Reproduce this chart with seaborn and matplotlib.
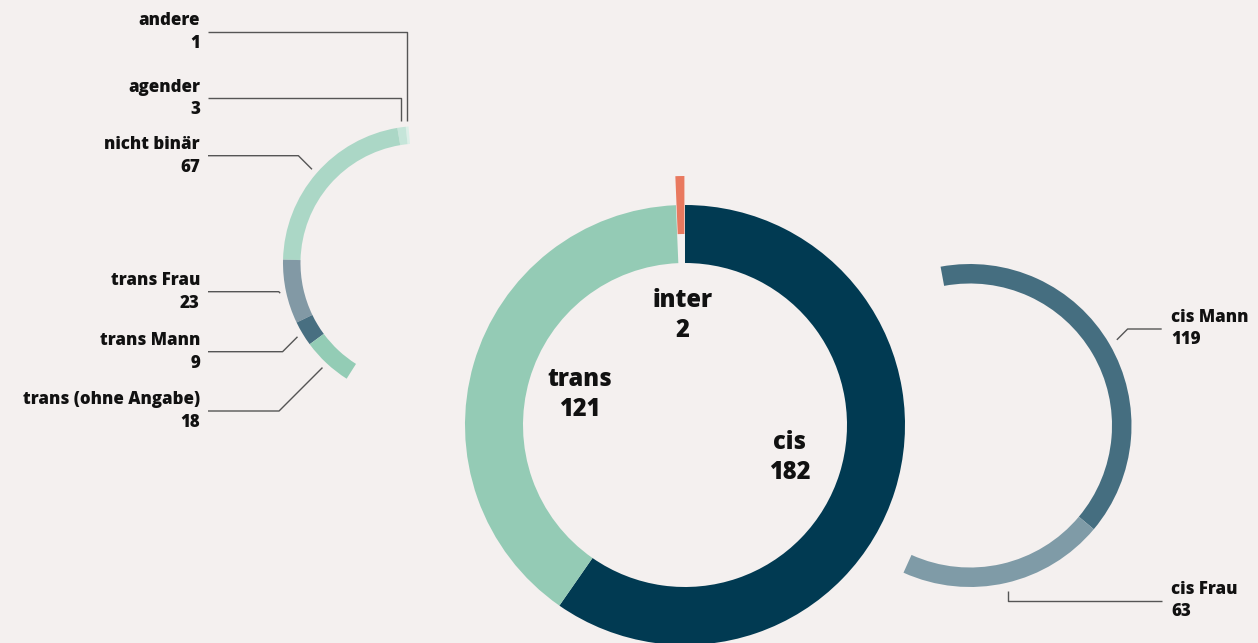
import numpy as np
import matplotlib
matplotlib.use("Agg")
import matplotlib.pyplot as plt
import seaborn as sns

# ---------------- data ----------------
main_labels = ["cis", "trans", "inter"]
main_values = [182, 121, 2]

cis_labels = ["cis Mann", "cis Frau"]
cis_values = [119, 63]

trans_labels = ["andere", "agender", "nicht binär", "trans Frau", "trans Mann", "trans (ohne Angabe)"]
trans_values = [1, 3, 67, 23, 9, 18]

# ---------------- style ----------------
main_colors = ["#013a52", "#94cbb5", "#e9795f"]
cis_colors = ["#456e80", "#7f9ba7"]
trans_colors = ["#dcefe8", "#c5e5d9", "#abd7c6", "#8299a5", "#486f81", "#93ccb5"]

W, H = 1258, 643
BG = "#f4f0ef"
TXT = "#111111"
LINE = "#555555"
WEIGHT = 800
BIG, SMALL = 17, 12.2

sns.set_theme(style="white", rc={"figure.facecolor": BG, "axes.facecolor": BG})
plt.rcParams["font.family"] = ["Open Sans", "DejaVu Sans"]


def Y(v):
    """image-pixel y (from top) -> data y (from bottom)"""
    return H - v


fig = plt.figure(figsize=(W / 100, H / 100), dpi=100)
fig.patch.set_facecolor(BG)
ax = fig.add_axes([0, 0, 1, 1])
ax.set_facecolor(BG)

total = sum(main_values)

# ---------------- main donut ----------------
main_c = (685, Y(425))
main_r, main_w = 220, 58
wedges_main, _ = ax.pie(
    main_values, colors=sns.color_palette(main_colors), startangle=90, counterclock=False,
    radius=main_r, center=main_c, explode=[0, 0, 29],
    wedgeprops=dict(width=main_w, linewidth=0),
)
for w, name, val in zip(wedges_main, main_labels, main_values):
    a = np.deg2rad((w.theta1 + w.theta2) / 2)
    x = main_c[0] + 110 * np.cos(a)
    y = main_c[1] + 110 * np.sin(a)
    ax.text(x, y + 15, name, ha="center", va="center", fontsize=BIG,
            fontweight=WEIGHT, color=TXT)
    ax.text(x, y - 15, str(val), ha="center", va="center", fontsize=BIG,
            fontweight=WEIGHT, color=TXT)

# ---------------- cis breakdown (right arc) ----------------
cis_c = (970, Y(425.5))
cis_r, cis_w = 161.5, 19.5
wedges_cis, _ = ax.pie(
    [v / total for v in cis_values], normalize=False, colors=sns.color_palette(cis_colors),
    startangle=100.5, counterclock=False, radius=cis_r, center=cis_c,
    wedgeprops=dict(width=cis_w, linewidth=0),
)

# ---------------- trans breakdown (left arc) ----------------
trans_c = (420, Y(263))
trans_r, trans_w = 137, 17.5
wedges_trans, _ = ax.pie(
    [v / total for v in trans_values], normalize=False, colors=sns.color_palette(trans_colors),
    startangle=94.8, counterclock=True, radius=trans_r, center=trans_c,
    wedgeprops=dict(width=trans_w, linewidth=0),
)


def leader(center, r_anchor, w, label_y, x_end, side, style):
    a = np.deg2rad((w.theta1 + w.theta2) / 2)
    px = center[0] + r_anchor * np.cos(a)
    py = center[1] + r_anchor * np.sin(a)
    if style == "diag":
        dy = abs(py - label_y)
        ex = px - dy if side == "left" else px + dy
        xs, ys = [x_end, ex, px], [label_y, label_y, py]
    else:
        xs, ys = [x_end, px, px], [label_y, label_y, py]
    ax.plot(xs, ys, color=LINE, lw=1, solid_capstyle="butt")


# left labels
trans_label_y = [31.7, 98.3, 155.7, 291.7, 351.7, 411.0]
trans_style = ["vert", "vert", "diag", "diag", "diag", "diag"]
for w, name, val, ly, st in zip(wedges_trans, trans_labels, trans_values, trans_label_y, trans_style):
    leader(trans_c, trans_r + 6, w, Y(ly), 208, "left", st)
    ax.text(200, Y(ly - 11), name, ha="right", va="center", fontsize=SMALL,
            fontweight=WEIGHT, color=TXT)
    ax.text(200, Y(ly + 11.5), str(val), ha="right", va="center", fontsize=SMALL,
            fontweight=WEIGHT, color=TXT)

# right labels
cis_label_y = [329.0, 600.7]
cis_style = ["diag", "vert"]
for w, name, val, ly, st in zip(wedges_cis, cis_labels, cis_values, cis_label_y, cis_style):
    leader(cis_c, cis_r + 8.5, w, Y(ly), 1161.7, "right", st)
    ax.text(1171, Y(ly - 11.5), name, ha="left", va="center", fontsize=SMALL,
            fontweight=WEIGHT, color=TXT)
    ax.text(1171, Y(ly + 11), str(val), ha="left", va="center", fontsize=SMALL,
            fontweight=WEIGHT, color=TXT)

ax.set_xlim(0, W)
ax.set_ylim(0, H)
ax.set_aspect("equal")
ax.set_axis_off()

fig.savefig("out.png", dpi=100, facecolor=BG)
